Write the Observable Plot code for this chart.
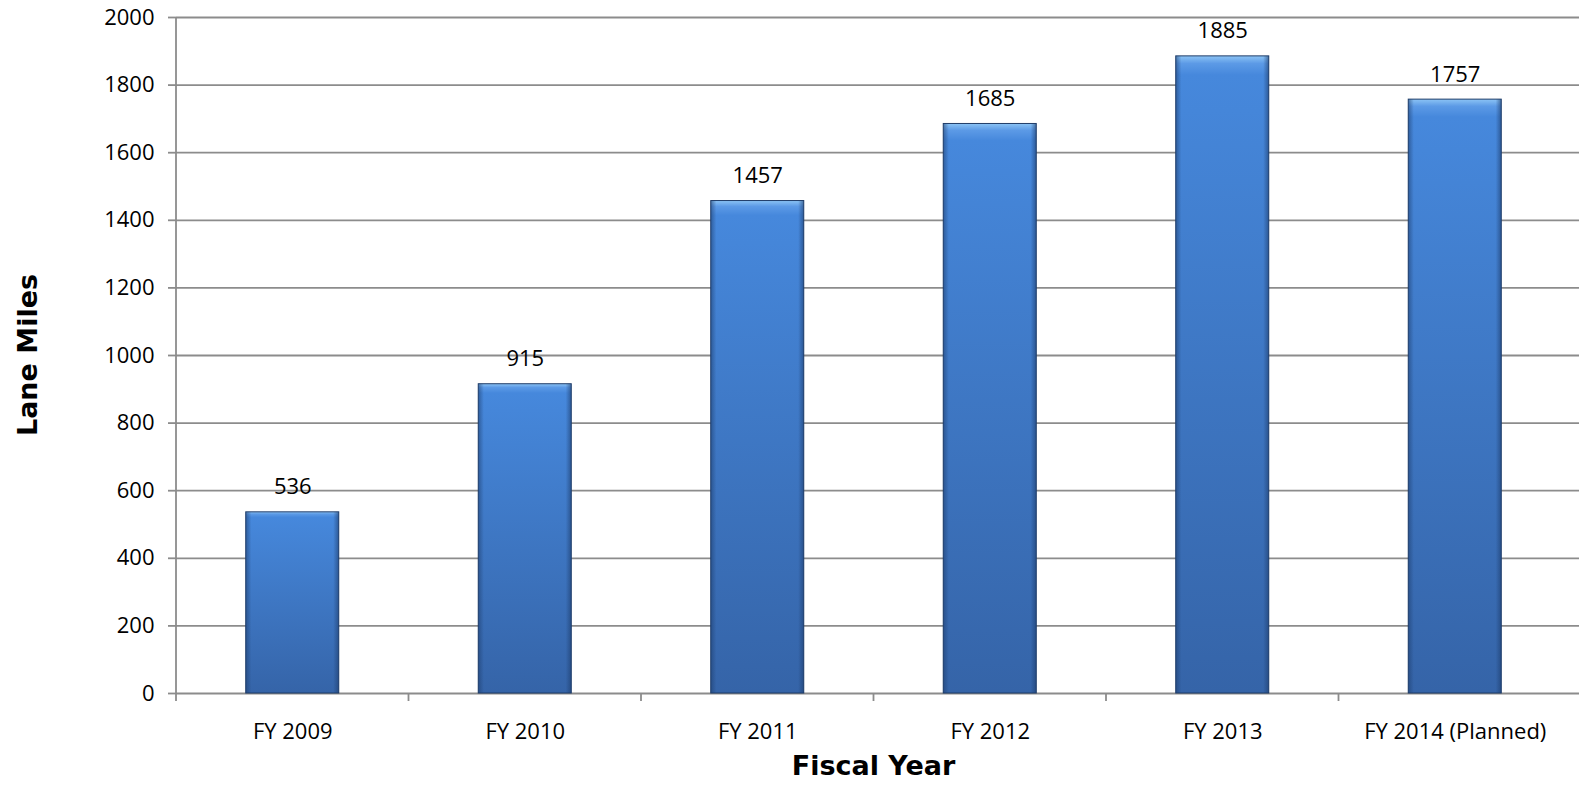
<!DOCTYPE html>
<html>
<head>
<meta charset="utf-8">
<script src="https://cdn.jsdelivr.net/npm/d3@7"></script>
<script src="https://cdn.jsdelivr.net/npm/@observablehq/plot@0.6"></script>
<style>
  html, body { margin: 0; padding: 0; background: #fff; overflow: hidden; }
  #chart { width: 1579px; height: 785px; overflow: hidden; }
  #chart svg { display: block; max-width: none !important; width: 1579px !important; height: 785px !important; }
</style>
</head>
<body>
<div id="chart"></div>
<script>
const years = ["FY 2009", "FY 2010", "FY 2011", "FY 2012", "FY 2013", "FY 2014 (Planned)"];
const laneMiles = [536, 915, 1457, 1685, 1885, 1757];
const yTicks = [0, 200, 400, 600, 800, 1000, 1200, 1400, 1600, 1800, 2000];
const xTitle = "Fiscal Year";
const yTitle = "Lane Miles";

const data = years.map((year, i) => ({year, value: laneMiles[i]}));
const AXIS = "#8c8c8c";
const PAD_INNER = 0.6;

const defs = () => {
  const g = d3.create("svg:g");
  const d = g.append("defs");
  const v = d.append("linearGradient").attr("id", "barV").attr("x1", 0).attr("y1", 0).attr("x2", 0).attr("y2", 1);
  v.append("stop").attr("offset", "0%").attr("stop-color", "#8cc4f5");
  v.append("stop").attr("offset", "1.2%").attr("stop-color", "#5c9ae6");
  v.append("stop").attr("offset", "3%").attr("stop-color", "#4688dc");
  v.append("stop").attr("offset", "100%").attr("stop-color", "#3564a8");
  const h = d.append("linearGradient").attr("id", "barH").attr("x1", 0).attr("y1", 0).attr("x2", 1).attr("y2", 0);
  h.append("stop").attr("offset", "0%").attr("stop-color", "#1d3c6b").attr("stop-opacity", 0.55);
  h.append("stop").attr("offset", "6%").attr("stop-color", "#1d3c6b").attr("stop-opacity", 0.0);
  h.append("stop").attr("offset", "94%").attr("stop-color", "#1d3c6b").attr("stop-opacity", 0.0);
  h.append("stop").attr("offset", "100%").attr("stop-color", "#1d3c6b").attr("stop-opacity", 0.6);
  return g.node();
};

// Axis line, category separator ticks and axis titles, drawn from the Plot scales
const axisDecor = (index, scales, values, dim) => {
  const {x, y} = scales;
  const g = d3.create("svg:g");
  const step = x(years[1]) - x(years[0]);
  const bw = step * (1 - PAD_INNER);
  const sep = (yr) => x(yr) + bw / 2 - step / 2;
  const x0 = sep(years[0]);
  const yb = y(0), yt = y(2000);
  g.append("line").attr("x1", x0).attr("x2", x0).attr("y1", yt).attr("y2", yb + 8)
    .attr("stroke", AXIS).attr("stroke-width", 1.8);
  years.forEach((yr, i) => {
    if (i === 0) return;
    const xs = sep(yr);
    g.append("line").attr("x1", xs).attr("x2", xs).attr("y1", yb).attr("y2", yb + 8)
      .attr("stroke", AXIS).attr("stroke-width", 1.8);
  });
  const midX = x0 + step * years.length / 2;
  g.append("text").attr("x", midX).attr("y", dim.height - 10)
    .attr("text-anchor", "middle").attr("font-family", "'DejaVu Sans', sans-serif")
    .attr("font-weight", "bold").attr("font-size", 27).attr("fill", "#000").text(xTitle);
  g.append("text").attr("transform", `translate(37,${(yb + yt) / 2}) rotate(-90)`)
    .attr("text-anchor", "middle").attr("font-family", "'DejaVu Sans', sans-serif")
    .attr("font-weight", "bold").attr("font-size", 27).attr("fill", "#000").text(yTitle);
  return g.node();
};

const chart = Plot.plot({
  width: 1579,
  height: 785,
  marginTop: 17,
  marginBottom: 92,
  marginLeft: 176,
  marginRight: 0,
  style: {fontFamily: "'Open Sans', sans-serif", fontSize: "22px", color: "#000", background: "#fff", overflow: "visible"},
  x: {domain: years, range: [176, 1571], round: false, paddingInner: PAD_INNER, paddingOuter: 0.3, label: null},
  y: {domain: [0, 2000], range: [693, 17], ticks: yTicks, label: null},
  marks: [
    defs,
    Plot.ruleY(yTicks, {stroke: AXIS, strokeWidth: 1.8, strokeOpacity: 1}),
    Plot.barY(data, {x: "year", y: "value", fill: "url(#barV)", stroke: "#1f3c68", strokeWidth: 1}),
    Plot.barY(data, {x: "year", y: "value", fill: "url(#barH)"}),
    Plot.text(data, {x: "year", y: "value", text: d => String(d.value), dy: -25, fill: "#000", fontSize: 22}),
    Plot.axisY({ticks: yTicks, tickSize: 8, tickPadding: 14, stroke: AXIS, strokeWidth: 1.8, strokeOpacity: 1, fontSize: 22, tickFormat: d => String(d), label: null}),
    Plot.axisX({tickSize: 0, tickPadding: 30, fontSize: 22, label: null}),
    axisDecor
  ]
});

document.getElementById("chart").appendChild(chart);
</script>
</body>
</html>
